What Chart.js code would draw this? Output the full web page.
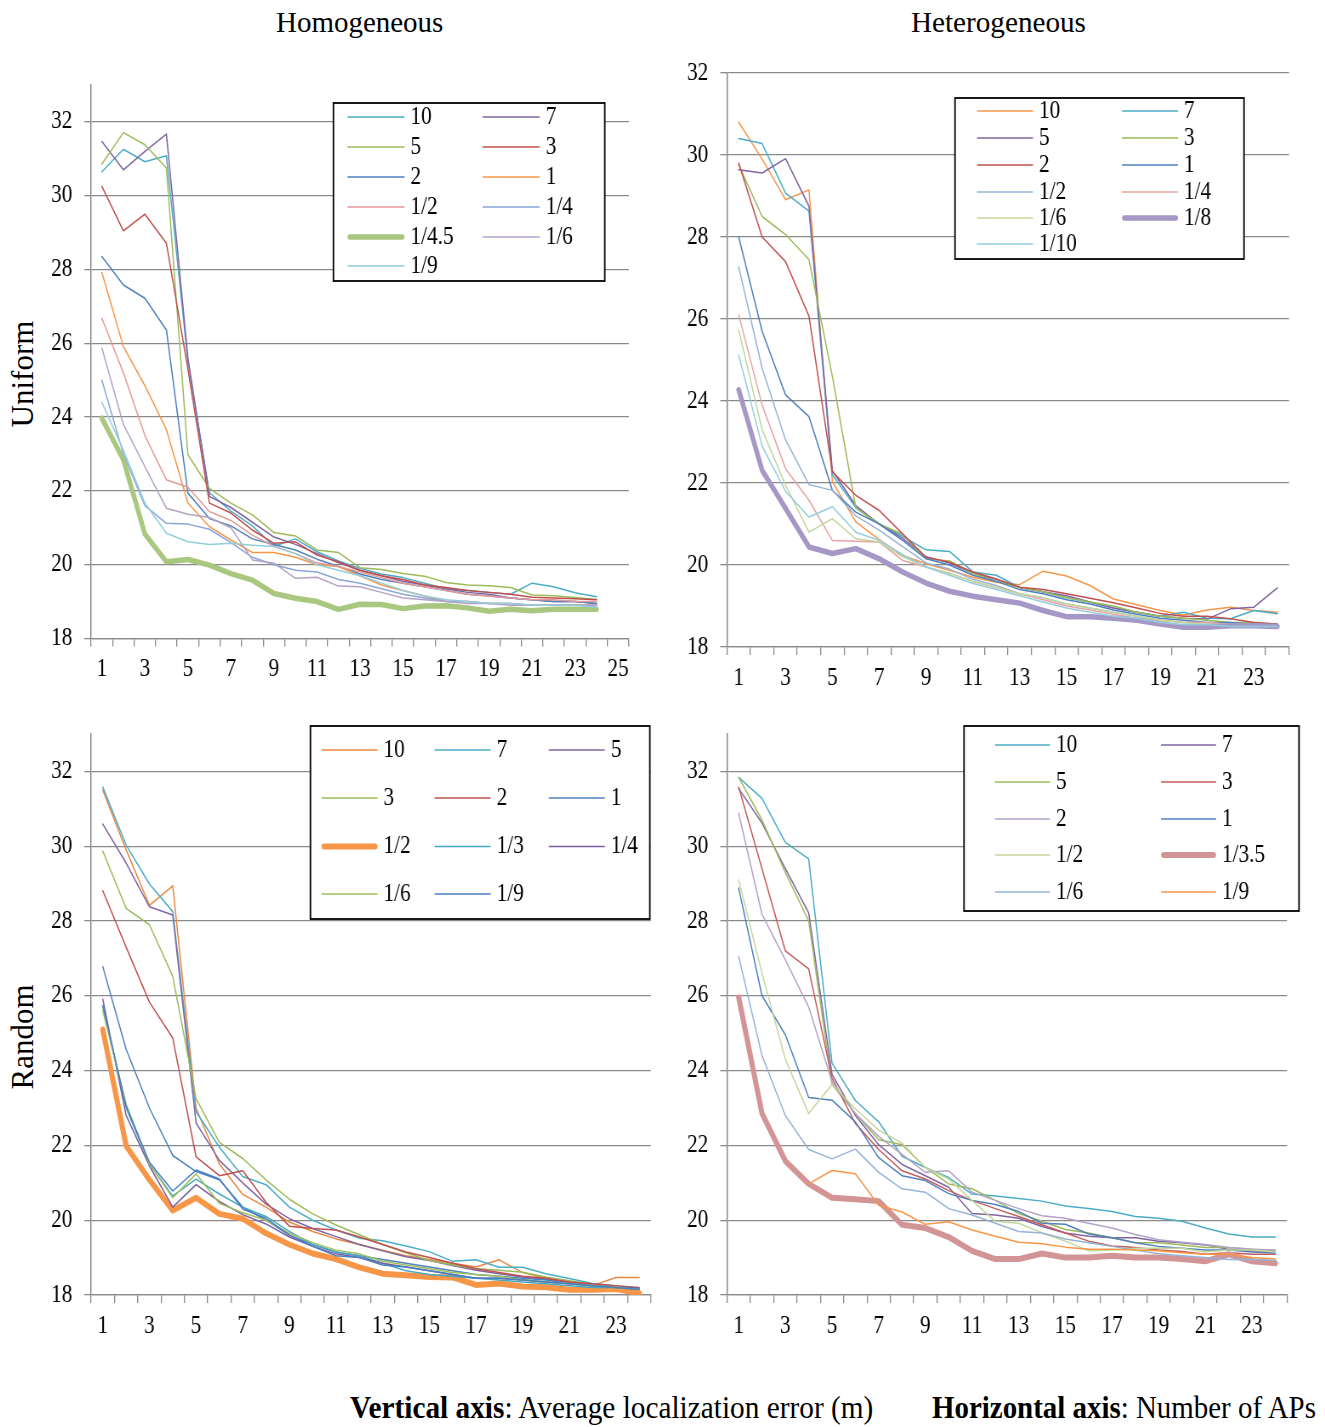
<!DOCTYPE html>
<html>
<head>
<meta charset="utf-8">
<title>Average localization error vs. number of APs</title>
<script src="https://cdn.jsdelivr.net/npm/chart.js@4.4.1/dist/chart.umd.min.js"></script>
<style>
  html, body { margin: 0; padding: 0; background: #ffffff; }
  body { position: relative; width: 1325px; height: 1427px; overflow: hidden;
         font-family: "Liberation Serif", "Times New Roman", serif; color: #000; }
  .panel { position: absolute; transform-origin: 0 0; }
  .label { position: absolute; white-space: nowrap; line-height: 1; transform-origin: 0 0; }
  .rot { transform-origin: 50% 50%; font-size: 31px; }
</style>
</head>
<body>
<div class="label" id="t-hom" style="font-size:30px">Homogeneous</div>
<div class="label" id="t-het" style="font-size:30px">Heterogeneous</div>
<div class="label rot" id="t-uni">Uniform</div>
<div class="label rot" id="t-ran">Random</div>
<div class="label" id="cap-v" style="font-size:32px"><b>Vertical axis</b>: Average localization error (m)</div>
<div class="label" id="cap-h" style="font-size:32px"><b>Horizontal axis</b>: Number of APs</div>

<div class="panel" id="p-uh"><canvas></canvas></div>
<div class="panel" id="p-ut"><canvas></canvas></div>
<div class="panel" id="p-rh"><canvas></canvas></div>
<div class="panel" id="p-rt"><canvas></canvas></div>

<script>
// ---------- categories (number of APs) ----------
const apCount25 = ['1','2','3','4','5','6','7','8','9','10','11','12','13','14','15','16','17','18','19','20','21','22','23','24','25'];
const apCount24 = ['1','2','3','4','5','6','7','8','9','10','11','12','13','14','15','16','17','18','19','20','21','22','23','24'];

// ---------- Uniform / Homogeneous ----------
const uhNames = ['10','7','5','3','2','1','1/2','1/4','1/4.5','1/6','1/9'];
const uh_10   = [30.65,31.26,30.92,31.08,25.5,21.95,21.45,21.05,20.5,20.7,20.35,20.1,19.9,19.75,19.65,19.5,19.35,19.3,19.25,19.2,19.5,19.4,19.24,19.13];
const uh_7    = [31.47,30.7,31.2,31.67,25.6,21.85,21.55,21.15,20.75,20.55,20.3,20.05,19.85,19.7,19.55,19.45,19.35,19.25,19.2,19.1,19.05,19.0,19.0,18.95];
const uh_5    = [30.86,31.71,31.38,30.75,22.98,22.07,21.67,21.35,20.87,20.78,20.4,20.33,19.92,19.87,19.76,19.69,19.52,19.45,19.43,19.38,19.18,19.16,19.11,19.06];
const uh_3    = [30.25,29.05,29.5,28.71,25.3,21.67,21.4,20.94,20.58,20.62,20.26,20.08,19.85,19.7,19.6,19.45,19.38,19.3,19.25,19.2,19.12,19.1,19.08,19.05];
const uh_2    = [28.35,27.58,27.22,26.36,21.94,21.25,21.05,20.7,20.55,20.4,20.15,19.95,19.75,19.6,19.5,19.4,19.3,19.2,19.15,19.1,19.05,19.0,19.0,18.95];
const uh_1    = [27.92,25.91,24.85,23.66,21.67,21.03,20.67,20.33,20.33,20.2,20.0,19.95,19.7,19.45,19.3,19.15,19.0,19.0,18.95,18.95,18.9,18.9,18.9,18.9];
const uh_1_2  = [26.68,25.2,23.5,22.3,22.1,21.44,21.2,20.8,20.5,20.3,20.05,19.95,19.8,19.65,19.5,19.4,19.3,19.2,19.15,19.1,19.05,19.05,19.0,19.0];
const uh_1_4  = [25.0,23.0,21.6,21.12,21.1,20.96,20.6,20.2,20.0,19.85,19.8,19.6,19.5,19.35,19.2,19.1,19.0,19.0,18.95,18.95,18.9,18.9,18.9,18.9];
const uh_1_45 = [23.97,22.84,20.83,20.08,20.14,19.99,19.76,19.58,19.22,19.09,19.0,18.79,18.93,18.92,18.81,18.88,18.89,18.83,18.74,18.79,18.75,18.79,18.79,18.79];
const uh_1_6  = [25.87,23.8,22.66,21.53,21.37,21.28,21.0,20.13,20.04,19.63,19.66,19.42,19.4,19.25,19.1,19.05,19.0,18.95,18.95,18.9,18.9,18.9,18.9,18.9];
const uh_1_9  = [24.4,23.1,21.67,20.85,20.62,20.55,20.58,20.53,20.49,20.3,20.0,19.85,19.7,19.5,19.3,19.15,19.05,19.0,18.95,18.95,18.9,18.9,18.9,18.85];

// ---------- Uniform / Heterogeneous ----------
const utNames = ['10','7','5','3','2','1','1/2','1/4','1/6','1/8','1/10'];
const ut_10   = [30.8,29.9,28.91,29.15,22.03,21.05,20.62,20.23,20.03,19.87,19.7,19.58,19.52,19.85,19.73,19.5,19.17,19.03,18.89,18.78,18.9,18.97,18.89,18.85];
const ut_7    = [30.4,30.28,29.07,28.63,22.2,21.4,21.0,20.7,20.37,20.33,19.83,19.75,19.45,19.35,19.2,19.1,18.95,18.85,18.75,18.85,18.7,18.69,18.89,18.81];
const ut_5    = [29.64,29.56,29.91,28.75,22.3,21.45,21.0,20.65,20.2,20.05,19.8,19.65,19.45,19.35,19.25,19.1,18.95,18.85,18.75,18.7,18.68,18.93,18.97,19.44];
const ut_3    = [29.76,28.5,28.06,27.45,24.6,21.39,21.0,20.75,20.15,20.1,19.8,19.6,19.45,19.35,19.2,19.1,19.0,18.85,18.75,18.7,18.65,18.6,18.6,18.55];
const ut_2    = [29.8,28.0,27.4,26.07,22.27,21.7,21.33,20.76,20.19,20.07,19.83,19.66,19.46,19.4,19.3,19.19,19.08,18.95,18.82,18.75,18.75,18.69,18.6,18.56];
const ut_1    = [28.0,25.7,24.15,23.62,21.82,21.29,21.0,20.6,20.15,20.0,19.75,19.6,19.4,19.3,19.15,19.05,18.9,18.8,18.7,18.65,18.6,18.6,18.55,18.55];
const ut_1_2  = [27.27,24.8,23.05,21.96,21.82,21.2,20.85,20.45,20.05,19.9,19.65,19.5,19.3,19.2,19.05,18.95,18.85,18.75,18.65,18.6,18.6,18.55,18.55,18.5];
const ut_1_4  = [26.1,23.9,22.35,21.58,20.6,20.58,20.56,20.11,19.95,19.8,19.6,19.45,19.3,19.15,19.0,18.9,18.8,18.7,18.65,18.6,18.6,18.55,18.55,18.5];
const ut_1_6  = [25.73,23.3,21.95,20.8,21.13,20.64,20.56,20.2,19.95,19.8,19.6,19.45,19.3,19.2,19.05,18.95,18.85,18.75,18.65,18.6,18.55,18.55,18.5,18.5];
const ut_1_8  = [24.27,22.31,21.38,20.44,20.28,20.4,20.15,19.83,19.56,19.36,19.24,19.15,19.07,18.89,18.74,18.74,18.7,18.65,18.56,18.48,18.48,18.52,18.52,18.5];
const ut_1_10 = [25.12,22.9,21.8,21.17,21.42,20.8,20.6,20.25,19.95,19.75,19.55,19.4,19.25,19.1,18.95,18.85,18.75,18.7,18.6,18.55,18.55,18.5,18.5,18.5];

// ---------- Random / Homogeneous ----------
const rhNames = ['10','7','5','3','2','1','1/2','1/3','1/4','1/6','1/9'];
const rh_10   = [31.5,29.9,28.42,28.94,23.0,21.5,20.69,20.35,19.95,19.7,19.5,19.35,19.2,19.05,18.95,18.85,18.75,18.94,18.6,18.45,18.35,18.25,18.47,18.47];
const rh_7    = [31.58,30.03,28.99,28.25,22.9,21.95,21.17,20.95,20.35,20.0,19.74,19.52,19.45,19.31,19.16,18.9,18.94,18.74,18.74,18.57,18.44,18.31,18.24,18.18];
const rh_5    = [30.59,29.55,28.38,28.16,22.6,21.6,21.0,20.43,20.04,19.78,19.56,19.35,19.18,19.02,18.92,18.79,18.66,18.57,18.48,18.42,18.33,18.27,18.23,18.18];
const rh_3    = [29.87,28.34,27.9,26.52,23.25,22.08,21.65,21.08,20.56,20.17,19.87,19.61,19.35,19.13,18.92,18.81,18.7,18.66,18.61,18.48,18.38,18.29,18.23,18.18];
const rh_2    = [28.81,27.3,25.83,24.87,21.69,21.19,21.32,20.48,19.84,19.78,19.74,19.55,19.35,19.15,19.0,18.85,18.7,18.6,18.5,18.45,18.35,18.3,18.25,18.2];
const rh_1    = [26.78,24.57,23.0,21.73,21.3,21.08,20.35,20.0,19.6,19.35,19.15,19.05,18.95,18.85,18.75,18.65,18.55,18.5,18.45,18.4,18.3,18.25,18.22,18.18];
const rh_1_2  = [25.1,21.99,21.08,20.26,20.6,20.17,20.04,19.65,19.35,19.11,18.96,18.74,18.57,18.53,18.48,18.47,18.27,18.31,18.23,18.21,18.14,18.14,18.16,18.05];
const rh_1_3  = [25.7,23.0,21.5,20.65,21.1,20.7,20.35,20.1,19.7,19.35,19.15,19.05,18.85,18.65,18.55,18.5,18.45,18.4,18.35,18.3,18.25,18.2,18.2,18.15];
const rh_1_4  = [25.91,22.8,21.45,20.35,20.95,20.5,20.15,19.9,19.55,19.3,19.1,19.0,18.85,18.75,18.65,18.55,18.45,18.45,18.4,18.35,18.3,18.25,18.2,18.18];
const rh_1_6  = [25.6,23.1,21.5,20.6,21.24,20.45,20.2,20.0,19.65,19.4,19.2,19.1,18.9,18.8,18.7,18.6,18.55,18.5,18.4,18.35,18.3,18.25,18.2,18.15];
const rh_1_9  = [25.75,23.05,21.55,20.78,21.34,21.1,20.3,20.05,19.6,19.3,19.05,19.0,18.8,18.75,18.65,18.55,18.45,18.45,18.4,18.35,18.3,18.25,18.2,18.15];

// ---------- Random / Heterogeneous ----------
const rtNames = ['10','7','5','3','2','1','1/2','1/3.5','1/6','1/9'];
const rt_10   = [31.84,31.28,30.1,29.66,24.2,23.2,22.63,21.71,21.41,21.14,20.7,20.65,20.58,20.51,20.38,20.31,20.23,20.1,20.05,19.97,19.79,19.63,19.55,19.55];
const rt_7    = [31.54,30.62,29.4,28.22,23.9,22.8,22.02,21.49,21.19,20.88,20.18,20.14,20.05,19.83,19.66,19.57,19.53,19.53,19.44,19.4,19.34,19.22,19.18,19.15];
const rt_5    = [31.84,30.7,29.3,28.0,23.63,22.85,22.15,22.02,21.41,20.97,20.84,20.53,20.18,19.97,19.75,19.66,19.53,19.4,19.4,19.34,19.27,19.27,19.22,19.18];
const rt_3    = [31.58,29.4,27.2,26.72,23.8,22.59,21.89,21.32,21.1,20.79,20.53,20.31,20.1,19.88,19.66,19.44,19.31,19.27,19.2,19.16,19.09,19.13,19.09,19.09];
const rt_2    = [30.88,28.18,26.96,25.7,23.7,22.85,22.24,21.76,21.28,21.32,20.75,20.53,20.31,20.12,20.05,19.92,19.79,19.62,19.48,19.41,19.35,19.27,19.22,19.2];
const rt_1    = [28.88,26.0,24.96,23.28,23.21,22.63,21.67,21.19,21.06,20.71,20.53,20.42,20.23,19.92,19.89,19.63,19.53,19.4,19.3,19.25,19.2,19.2,19.15,19.12];
const rt_1_2  = [29.1,26.6,24.3,22.85,23.63,22.98,22.41,22.06,21.41,21.1,20.53,19.97,19.92,19.66,19.44,19.18,19.2,19.25,19.25,19.25,19.15,19.2,19.2,19.15];
const rt_1_35 = [25.96,22.85,21.58,20.97,20.6,20.56,20.51,19.88,19.79,19.55,19.18,18.96,18.96,19.11,19.0,19.0,19.05,19.0,19.0,18.96,18.9,19.09,18.9,18.85];
const rt_1_6  = [27.05,24.4,22.8,21.89,21.64,21.9,21.28,20.84,20.75,20.31,20.14,19.92,19.7,19.66,19.5,19.4,19.3,19.2,19.1,19.05,19.0,18.95,18.95,18.92];
const rt_1_9  = [null,null,null,20.97,21.33,21.24,20.4,20.22,19.89,19.96,19.74,19.57,19.41,19.37,19.28,19.22,19.22,19.2,19.18,19.13,19.09,19.09,19.0,18.96];

// ---------- line styles ----------
const THIN = 1.5;
const uhStyle = [
  {c:'#4BACC6',w:THIN},{c:'#8064A2',w:THIN},{c:'#9BBB59',w:THIN},{c:'#C0504D',w:THIN},
  {c:'#4F81BD',w:THIN},{c:'#F79646',w:THIN},{c:'#E39A98',w:THIN},{c:'#8AA6D8',w:THIN},
  {c:'#A9C77F',w:5.5},{c:'#B3A2C7',w:THIN},{c:'#92CDDC',w:THIN}];
const utStyle = [
  {c:'#F79646',w:THIN},{c:'#4BACC6',w:THIN},{c:'#8064A2',w:THIN},{c:'#9BBB59',w:THIN},
  {c:'#C0504D',w:THIN},{c:'#4F81BD',w:THIN},{c:'#95B3D7',w:THIN},{c:'#E6A3A2',w:THIN},
  {c:'#C3D69B',w:THIN},{c:'#A597C6',w:5.5},{c:'#93CDDD',w:THIN}];
const rhStyle = [
  {c:'#E8873E',w:THIN},{c:'#4BACC6',w:THIN},{c:'#8064A2',w:THIN},{c:'#9BBB59',w:THIN},
  {c:'#C0504D',w:THIN},{c:'#4F81BD',w:THIN},{c:'#F79646',w:6},{c:'#46A8C2',w:THIN},
  {c:'#7B5FA0',w:THIN},{c:'#A0C05E',w:THIN},{c:'#4A7FC0',w:THIN}];
const rtStyle = [
  {c:'#4BACC6',w:THIN},{c:'#8064A2',w:THIN},{c:'#9BBB59',w:THIN},{c:'#C65B5B',w:THIN},
  {c:'#B3A2C7',w:THIN},{c:'#4F81BD',w:THIN},{c:'#C3D69B',w:THIN},{c:'#D39496',w:6},
  {c:'#95B3D7',w:THIN},{c:'#F79646',w:THIN}];

// ---------- drawing helpers ----------
const SX = 0.85;               // horizontal squeeze of the figure
const SERIF = '"Liberation Serif", "Times New Roman", serif';
const GRID = '#8a8a8a';

function boxLegendPlugin(spec) {
  return {
    id: 'boxLegend',
    afterDatasetsDraw(chart) {
      const ctx = chart.ctx;
      ctx.save();
      ctx.fillStyle = '#ffffff';
      ctx.fillRect(spec.x, spec.y, spec.w, spec.h);
      ctx.strokeStyle = '#000000';
      ctx.lineWidth = 1.8;
      ctx.strokeRect(spec.x, spec.y, spec.w, spec.h);
      ctx.font = '25px ' + SERIF;
      ctx.textBaseline = 'middle';
      chart.data.datasets.forEach((ds, i) => {
        const col = i % spec.cols.length;
        const row = Math.floor(i / spec.cols.length);
        const x = spec.cols[col], y = spec.rows[row];
        const thick = ds.borderWidth > 3;
        ctx.strokeStyle = ds.borderColor;
        ctx.lineWidth = ds.borderWidth;
        ctx.lineCap = thick ? 'round' : 'butt';
        ctx.beginPath();
        ctx.moveTo(x + (thick ? ds.borderWidth / 2 : 0), y);
        ctx.lineTo(x + spec.len - (thick ? ds.borderWidth / 2 : 0), y);
        ctx.stroke();
        ctx.fillStyle = '#000000';
        ctx.fillText(ds.label, x + spec.len + spec.gap, y);
      });
      ctx.restore();
    }
  };
}

function buildPanel(id, labels, series, names, styles, lay) {
  const holder = document.getElementById(id);
  const {box, plot, ymax, legend} = lay;
  holder.style.left = box.x + 'px';
  holder.style.top = box.y + 'px';
  holder.style.width = (box.w / SX) + 'px';
  holder.style.height = box.h + 'px';
  holder.style.transform = 'scaleX(' + SX + ')';

  const toX = x => (x - box.x) / SX;
  const toY = y => y - box.y;
  const yAxisWidth = toX(plot.l);
  const padRight = (box.x + box.w - plot.r) / SX;
  const padTop = plot.t - box.y;
  const xAxisHeight = box.y + box.h - plot.b;

  const datasets = series.map((data, i) => ({
    label: names[i],
    data: data,
    borderColor: styles[i].c,
    backgroundColor: styles[i].c,
    borderWidth: styles[i].w,
    pointRadius: 0,
    pointHoverRadius: 0,
    tension: 0,
    fill: false,
    order: series.length - i,
    borderCapStyle: 'round',
    borderJoinStyle: 'round'
  }));

  const legendSpec = {
    x: toX(legend.x0), y: toY(legend.y0),
    w: (legend.x1 - legend.x0) / SX, h: legend.y1 - legend.y0,
    cols: legend.cols.map(toX), rows: legend.rows.map(toY),
    len: legend.len / SX, gap: 6 / SX
  };

  new Chart(holder.querySelector('canvas'), {
    type: 'line',
    data: { labels: labels, datasets: datasets },
    options: {
      responsive: true,
      maintainAspectRatio: false,
      animation: false,
      events: [],
      layout: { padding: { left: 0, right: padRight, top: padTop, bottom: 0 } },
      plugins: { legend: { display: false }, tooltip: { enabled: false } },
      scales: {
        x: {
          type: 'category',
          offset: true,
          grid: { offset: true, drawOnChartArea: false, drawTicks: true, tickLength: 8, color: GRID, lineWidth: 1.3 },
          border: { color: GRID, width: 1.3 },
          ticks: {
            autoSkip: false, maxRotation: 0, minRotation: 0, padding: 8,
            color: '#000', font: { family: SERIF, size: 25 },
            callback: (v, i) => (i % 2 === 0 ? labels[i] : '')
          },
          afterFit: s => { s.height = xAxisHeight; }
        },
        y: {
          type: 'linear',
          min: 18, max: ymax,
          grid: { color: GRID, lineWidth: 1.3, drawTicks: true, tickLength: 8 },
          border: { color: GRID, width: 1.5 },
          ticks: { stepSize: 2, includeBounds: false, padding: 14, color: '#000', font: { family: SERIF, size: 25 } },
          afterFit: s => { s.width = yAxisWidth; }
        }
      }
    },
    plugins: [boxLegendPlugin(legendSpec)]
  });
}

buildPanel('p-uh', apCount25,
  [uh_10, uh_7, uh_5, uh_3, uh_2, uh_1, uh_1_2, uh_1_4, uh_1_45, uh_1_6, uh_1_9], uhNames, uhStyle,
  { box: {x: 0, y: 50, w: 660, h: 650}, plot: {l: 91, r: 628, t: 85, b: 638.5}, ymax: 33,
    legend: {x0: 333, y0: 103, x1: 604, y1: 281, cols: [347, 482], rows: [117, 147, 177, 207, 237, 266], len: 57} });

buildPanel('p-ut', apCount24,
  [ut_10, ut_7, ut_5, ut_3, ut_2, ut_1, ut_1_2, ut_1_4, ut_1_6, ut_1_8, ut_1_10], utNames, utStyle,
  { box: {x: 662, y: 40, w: 663, h: 660}, plot: {l: 727, r: 1289, t: 73, b: 647}, ymax: 32,
    legend: {x0: 955, y0: 98, x1: 1244, y1: 259, cols: [977, 1122], rows: [111, 138, 165, 192, 218, 244], len: 56} });

buildPanel('p-rh', apCount24,
  [rh_10, rh_7, rh_5, rh_3, rh_2, rh_1, rh_1_2, rh_1_3, rh_1_4, rh_1_6, rh_1_9], rhNames, rhStyle,
  { box: {x: 0, y: 705, w: 660, h: 670}, plot: {l: 91, r: 650, t: 717.5, b: 1295}, ymax: 33,
    legend: {x0: 310, y0: 726, x1: 649, y1: 919, cols: [321, 434, 548], rows: [750, 798, 846.5, 894], len: 56} });

buildPanel('p-rt', apCount24,
  [rt_10, rt_7, rt_5, rt_3, rt_2, rt_1, rt_1_2, rt_1_35, rt_1_6, rt_1_9], rtNames, rtStyle,
  { box: {x: 662, y: 705, w: 663, h: 670}, plot: {l: 727, r: 1287, t: 723, b: 1295}, ymax: 33,
    legend: {x0: 964, y0: 726, x1: 1299, y1: 911, cols: [995, 1161], rows: [745, 782, 819, 855, 892], len: 55} });

// ---------- headings and caption ----------
function placeFitted(id, left, top, width) {
  const el = document.getElementById(id);
  el.style.left = left + 'px';
  el.style.top = top + 'px';
  const w = el.offsetWidth;
  el.style.transform = 'scaleX(' + (width / w) + ')';
}
placeFitted('t-hom', 276, 7, 167);
placeFitted('t-het', 911, 7, 175);
placeFitted('cap-v', 350, 1391, 523);
placeFitted('cap-h', 932, 1391, 384);

function placeRotated(id, cx, cy) {
  const el = document.getElementById(id);
  el.style.left = cx + 'px';
  el.style.top = cy + 'px';
  el.style.transform = 'translate(-50%, -50%) rotate(-90deg)';
}
placeRotated('t-uni', 22, 374);
placeRotated('t-ran', 22, 1037);
</script>
</body>
</html>
